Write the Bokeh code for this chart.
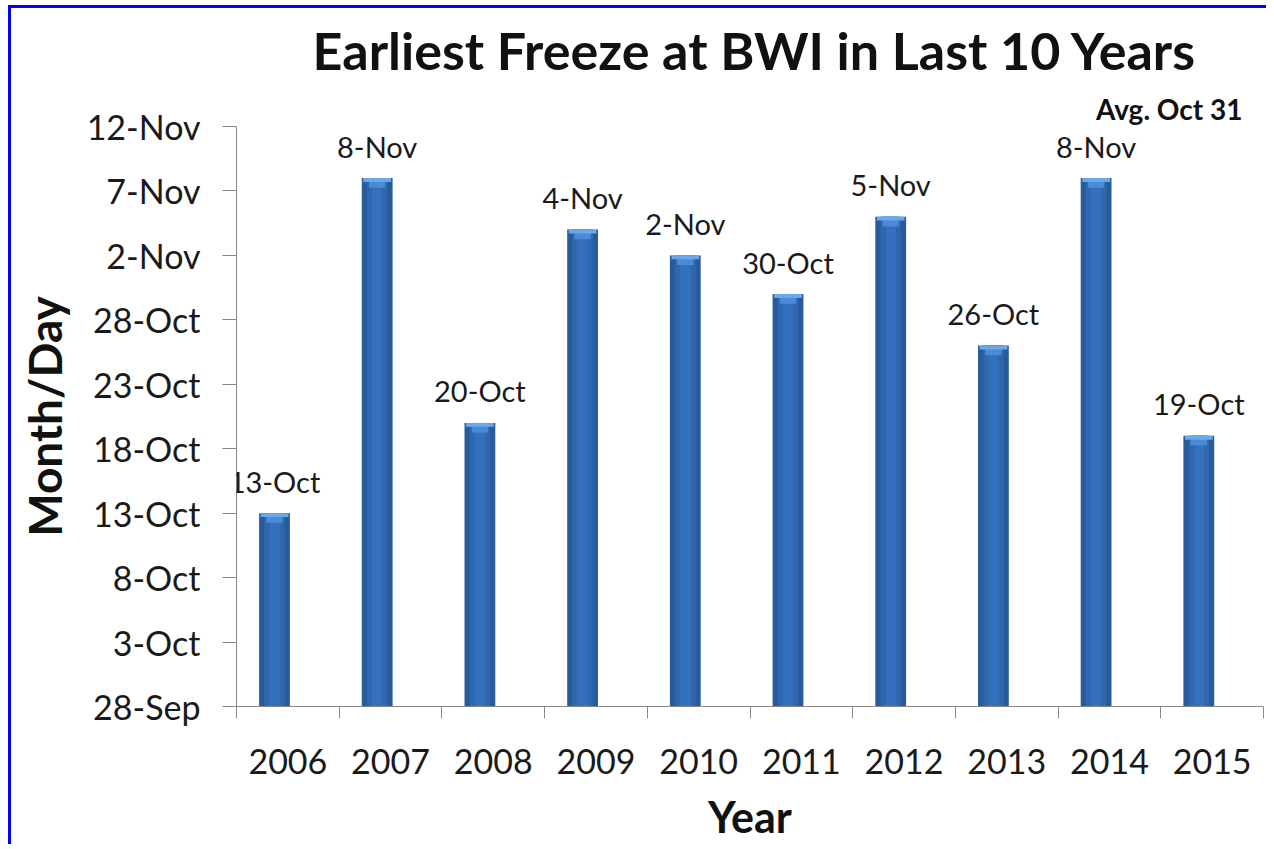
from datetime import datetime
from bokeh.plotting import figure
from bokeh.models import (Range1d, FixedTicker, LinearAxis, ColumnDataSource, LabelSet, Title,
                          Div, Spacer)
from bokeh.layouts import row, column
from bokeh.core.properties import value
from bokeh.embed import file_html
from bokeh.resources import INLINE

# ---- data ----
years = ["2006", "2007", "2008", "2009", "2010", "2011", "2012", "2013", "2014", "2015"]
freeze_dates = ["13-Oct", "8-Nov", "20-Oct", "4-Nov", "2-Nov", "30-Oct", "5-Nov", "26-Oct", "8-Nov", "19-Oct"]
y_tick_labels = ["28-Sep", "3-Oct", "8-Oct", "13-Oct", "18-Oct", "23-Oct", "28-Oct", "2-Nov", "7-Nov", "12-Nov"]
avg_text = "Avg. Oct 31"

BASE = datetime(2001, 9, 28)


def day_offset(s):
    return (datetime.strptime(s + "-2001", "%d-%b-%Y") - BASE).days


values = [day_offset(s) for s in freeze_dates]
tick_vals = [day_offset(s) for s in y_tick_labels]

FONT = "Lato"
BAR_SHIFT = -0.13
xs = [i + 0.5 + BAR_SHIFT for i in range(len(years))]
src = ColumnDataSource(dict(x=xs, top=values, label=freeze_dates,
                            cap1=[v - 0.3 for v in values],
                            cap2=[v - 0.75 for v in values]))

W, H = 1255, 836
p = figure(width=W, height=H, output_backend="svg", toolbar_location=None,
           x_range=Range1d(0, len(years)), y_range=Range1d(tick_vals[0], tick_vals[-1]),
           x_axis_type=None, y_axis_type=None, margin=0,
           min_border_left=225, min_border_right=3, min_border_top=118, min_border_bottom=100)
p.outline_line_color = None
p.background_fill_color = "white"
p.border_fill_color = "white"

# title
p.title.text = "Earliest Freeze at BWI in Last 10 Years"
p.title.text_font = FONT
p.title.text_font_size = "52px"
p.title.text_font_style = "bold"
p.title.text_color = "#111111"
p.title.align = "left"
p.title.offset = 76
p.title.standoff = 15

# average note, right above the plot area
avg = Title(text=avg_text, align="right", offset=21, standoff=2,
            text_font=FONT, text_font_size="28px", text_font_style="bold",
            text_color="#111111")
p.add_layout(avg, "above")

GRAY = "#8a8a8a"

# y axis
yaxis = LinearAxis(ticker=FixedTicker(ticks=tick_vals, minor_ticks=[]),
                   major_label_overrides={v: l for v, l in zip(tick_vals, y_tick_labels)})
yaxis.axis_label = "Month/Day"
yaxis.axis_label_text_font = FONT
yaxis.axis_label_text_font_size = "46px"
yaxis.axis_label_text_font_style = "bold"
yaxis.axis_label_text_color = "#111111"
yaxis.axis_label_standoff = 12
yaxis.major_label_text_font = FONT
yaxis.major_label_text_font_size = "34px"
yaxis.major_label_text_color = "#1a1a1a"
yaxis.major_label_standoff = 22
yaxis.major_tick_out = 14
yaxis.major_tick_in = 0
yaxis.major_tick_line_color = GRAY
yaxis.minor_tick_line_color = None
yaxis.axis_line_color = GRAY
p.add_layout(yaxis, "left")

# x axis: labels at slot centres, minor ticks at slot boundaries
xaxis = LinearAxis(ticker=FixedTicker(ticks=[i + 0.5 for i in range(len(years))],
                                      minor_ticks=list(range(len(years) + 1))),
                   major_label_overrides={i + 0.5: y for i, y in enumerate(years)})
xaxis.axis_label = "Year"
xaxis.axis_label_text_font = FONT
xaxis.axis_label_text_font_size = "43px"
xaxis.axis_label_text_font_style = "bold"
xaxis.axis_label_text_color = "#111111"
xaxis.axis_label_standoff = 14
xaxis.major_label_text_font = FONT
xaxis.major_label_text_font_size = "34px"
xaxis.major_label_text_color = "#1a1a1a"
xaxis.major_label_standoff = 30
xaxis.major_tick_line_color = None
xaxis.major_tick_out = 0
xaxis.major_tick_in = 0
xaxis.minor_tick_out = 12
xaxis.minor_tick_in = 0
xaxis.minor_tick_line_color = GRAY
xaxis.axis_line_color = GRAY
p.add_layout(xaxis, "below")

# grid
p.ygrid.ticker = FixedTicker(ticks=tick_vals)
p.ygrid.grid_line_color = GRAY
p.ygrid.grid_line_width = 1
p.xgrid.visible = False

# bars (layered to mimic the shading)
p.vbar(x="x", top="top", bottom=tick_vals[0], width=0.30, source=src,
       fill_color="#2a5b99", line_color=None)
p.vbar(x="x", top="top", bottom=tick_vals[0], width=0.20, source=src,
       fill_color="#2f67ae", line_color=None)
p.vbar(x="x", top="top", bottom=tick_vals[0], width=0.10, source=src,
       fill_color="#3470bb", line_color=None)
p.vbar(x="x", top="top", bottom="cap2", width=0.16, source=src,
       fill_color="#4a8ad6", line_color=None)
p.vbar(x="x", top="top", bottom="cap1", width=0.27, source=src,
       fill_color="#6aa8ee", line_color=None)

# value labels
labels = LabelSet(x="x", y="top", text="label", source=src, y_offset=32,
                  text_align="center", text_baseline="middle",
                  text_font=value(FONT), text_font_size=value("29px"), text_color="#1a1a1a")
p.add_layout(labels)

# blue picture frame on the left and top edges
BLUE = {"background-color": "#0000ff"}
top_line = Div(text="", width=W + 3, height=3, margin=0, styles=BLUE)
left_line = Div(text="", width=3, height=H, margin=0, styles=BLUE)
layout = column(Spacer(height=5, width=10, margin=0),
                row(Spacer(width=8, height=3, margin=0), top_line, spacing=0, margin=0),
                row(Spacer(width=8, height=H, margin=0), left_line, p, spacing=0, margin=0),
                spacing=0, margin=0)

open("out.html", "w").write(file_html(layout, INLINE))
